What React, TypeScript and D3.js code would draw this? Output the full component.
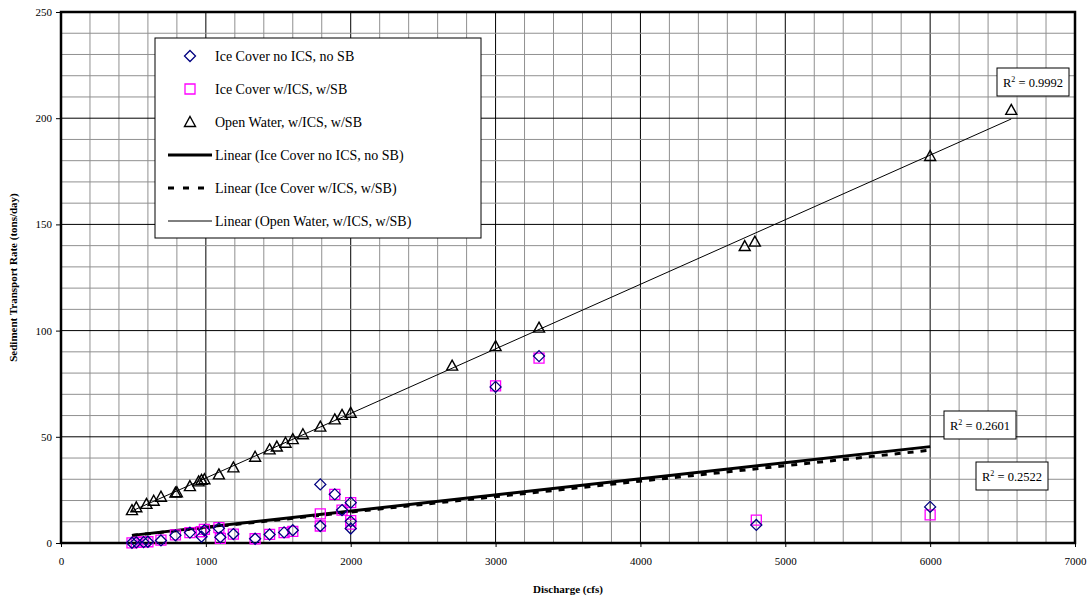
import React, { useEffect, useRef } from 'react';
import * as d3 from 'd3';

// Ice Cover no ICS, no SB (diamonds)
const iceNoX = [490, 520, 570, 600, 690, 790, 890, 970, 990, 1090, 1100, 1190, 1340, 1440, 1540, 1600, 1790, 1790, 1890, 1940, 2000, 2000, 2000, 3000, 3300, 4800, 6000];
const iceNoY = [0.1, 0.3, 0.4, 0.6, 1.2, 3.6, 4.9, 3.0, 6.0, 6.9, 2.7, 4.2, 2.0, 4.0, 5.0, 6.0, 27.6, 8.0, 22.9, 15.5, 19.0, 10.2, 6.8, 73.5, 88.0, 8.5, 17.0];

// Ice Cover w/ICS, w/SB (squares)
const iceWX = [490, 520, 570, 600, 690, 790, 890, 970, 990, 1090, 1100, 1190, 1340, 1440, 1540, 1600, 1790, 1790, 1890, 1940, 2000, 2000, 2000, 3000, 3300, 4800, 6000];
const iceWY = [0.1, 0.3, 0.5, 0.6, 1.4, 3.8, 4.9, 5.3, 6.4, 7.2, 2.2, 4.2, 2.0, 4.1, 4.9, 5.5, 13.7, 8.0, 22.9, 15.5, 19.0, 10.5, 8.9, 74.0, 87.0, 10.8, 13.2];

// Open Water, w/ICS, w/SB (triangles)
const openX = [490, 520, 590, 640, 690, 790, 800, 890, 950, 970, 990, 1090, 1190, 1340, 1440, 1490, 1550, 1600, 1670, 1790, 1890, 1940, 2000, 2700, 3000, 3300, 4720, 4790, 6000, 6560];
const openY = [15.5, 16.8, 18.4, 19.9, 21.8, 23.7, 23.9, 26.8, 29.0, 29.7, 30.0, 32.3, 35.6, 40.6, 44.1, 45.4, 47.2, 48.9, 51.2, 54.8, 58.2, 60.3, 61.3, 83.5, 92.7, 101.4, 139.8, 141.9, 182.2, 203.9];

const xTicks = [0, 1000, 2000, 3000, 4000, 5000, 6000, 7000];
const yTicks = [0, 50, 100, 150, 200, 250];
const r2Labels = ['0.9992', '0.2601', '0.2522'];
const legendLabels = [
  'Ice Cover no ICS, no SB',
  'Ice Cover w/ICS, w/SB',
  'Open Water, w/ICS, w/SB',
  'Linear (Ice Cover no ICS, no SB)',
  'Linear (Ice Cover w/ICS, w/SB)',
  'Linear (Open Water, w/ICS, w/SB)',
];

const FONT = '"Liberation Serif", "Times New Roman", serif';

const linFit = (xs: number[], ys: number[]) => {
  const mx = d3.mean(xs)!;
  const my = d3.mean(ys)!;
  let sxy = 0, sxx = 0;
  xs.forEach((x, i) => { sxy += (x - mx) * (ys[i] - my); sxx += (x - mx) * (x - mx); });
  const b = sxy / sxx;
  return { a: my - b * mx, b };
};

const App = () => {
  const ref = useRef<SVGSVGElement>(null);

  useEffect(() => {
    const W = 1092, H = 601;
    const margin = { top: 12, right: 17, bottom: 58, left: 61 };
    const svg = d3.select(ref.current);
    svg.selectAll('*').remove();
    svg.attr('width', W).attr('height', H);

    const x = d3.scaleLinear().domain([0, 7000]).range([margin.left, W - margin.right]);
    const y = d3.scaleLinear().domain([0, 250]).range([H - margin.bottom, margin.top]);

    const g = svg.append('g');

    // grid
    g.selectAll('.vgrid')
      .data(d3.range(200, 7000, 200))
      .enter().append('line')
      .attr('x1', d => x(d)).attr('x2', d => x(d))
      .attr('y1', y(0)).attr('y2', y(250))
      .attr('stroke', d => d % 1000 === 0 ? '#000' : '#909090')
      .attr('stroke-width', 1);
    g.selectAll('.hgrid')
      .data(d3.range(10, 250, 10))
      .enter().append('line')
      .attr('y1', d => y(d)).attr('y2', d => y(d))
      .attr('x1', x(0)).attr('x2', x(7000))
      .attr('stroke', d => d % 50 === 0 ? '#000' : '#909090')
      .attr('stroke-width', 1);

    // axes
    const xAxis = g.append('g')
      .attr('transform', `translate(0,${y(0)})`)
      .call(d3.axisBottom(x).tickValues(xTicks).tickSize(4).tickPadding(10).tickFormat(d3.format('d')));
    const yAxis = g.append('g')
      .attr('transform', `translate(${x(0)},0)`)
      .call(d3.axisLeft(y).tickValues(yTicks).tickSize(5).tickPadding(4));
    [xAxis, yAxis].forEach(a => {
      a.select('.domain').remove();
      a.selectAll('text').attr('font-family', FONT).attr('font-size', 11).attr('fill', '#000');
      a.selectAll('line').attr('stroke', '#000');
    });

    // frame
    g.append('rect')
      .attr('x', x(0)).attr('y', y(250))
      .attr('width', x(7000) - x(0)).attr('height', y(0) - y(250))
      .attr('fill', 'none').attr('stroke', '#000').attr('stroke-width', 2.5);

    // trendlines
    const trend = (xs: number[], ys: number[]) => {
      const f = linFit(xs, ys);
      const x0 = d3.min(xs)!, x1 = d3.max(xs)!;
      return [[x0, f.a + f.b * x0], [x1, f.a + f.b * x1]];
    };
    const line = d3.line<number[]>().x(d => x(d[0])).y(d => y(d[1]));
    g.append('path').attr('d', line(trend(openX, openY))).attr('stroke', '#000').attr('stroke-width', 1).attr('fill', 'none');
    g.append('path').attr('d', line(trend(iceWX, iceWY))).attr('stroke', '#000').attr('stroke-width', 3).attr('stroke-dasharray', '6,7').attr('fill', 'none');
    g.append('path').attr('d', line(trend(iceNoX, iceNoY))).attr('stroke', '#000').attr('stroke-width', 3).attr('fill', 'none');

    // markers
    const diamond = 'M0,-5.5L5.5,0L0,5.5L-5.5,0Z';
    const square = 'M-5,-5H5V5H-5Z';
    const tri = 'M0,-5.5L5.5,4.5H-5.5Z';

    g.selectAll('.sq').data(iceWX).enter().append('path')
      .attr('d', square)
      .attr('transform', (d, i) => `translate(${x(d)},${y(iceWY[i])})`)
      .attr('fill', 'none').attr('stroke', '#ff00ff').attr('stroke-width', 1.3);
    g.selectAll('.dm').data(iceNoX).enter().append('path')
      .attr('d', diamond)
      .attr('transform', (d, i) => `translate(${x(d)},${y(iceNoY[i])})`)
      .attr('fill', 'none').attr('stroke', '#000080').attr('stroke-width', 1.3);
    g.selectAll('.tr').data(openX).enter().append('path')
      .attr('d', tri)
      .attr('transform', (d, i) => `translate(${x(d)},${y(openY[i])})`)
      .attr('fill', 'none').attr('stroke', '#000').attr('stroke-width', 1.4);

    // R² labels
    const r2Pos = [[1033, 82], [980, 425], [1012, 476]];
    r2Labels.forEach((lab, i) => {
      const [cx, cy] = r2Pos[i];
      const bw = 72, bh = 28;
      g.append('rect').attr('x', cx - bw / 2).attr('y', cy - bh / 2).attr('width', bw).attr('height', bh)
        .attr('fill', '#fff').attr('stroke', '#000').attr('stroke-width', 1);
      const t = g.append('text').attr('x', cx).attr('y', cy + 4.5).attr('text-anchor', 'middle')
        .attr('font-family', FONT).attr('font-size', 12.5).attr('fill', '#000');
      t.append('tspan').text('R');
      t.append('tspan').attr('dy', -5).attr('font-size', 8).text('2');
      t.append('tspan').attr('dy', 5).text(` = ${lab}`);
    });

    // legend
    const lg = g.append('g');
    lg.append('rect').attr('x', 155).attr('y', 38).attr('width', 326).attr('height', 200)
      .attr('fill', '#fff').attr('stroke', '#000').attr('stroke-width', 1);
    const rowY = (i: number) => 56 + i * 33;
    legendLabels.forEach((lab, i) => {
      lg.append('text').attr('x', 215).attr('y', rowY(i) + 5).attr('font-family', FONT)
        .attr('font-size', 14).attr('fill', '#000').text(lab);
    });
    lg.append('path').attr('d', diamond).attr('transform', `translate(190,${rowY(0)})`)
      .attr('fill', 'none').attr('stroke', '#000080').attr('stroke-width', 1.3);
    lg.append('path').attr('d', square).attr('transform', `translate(190,${rowY(1)})`)
      .attr('fill', 'none').attr('stroke', '#ff00ff').attr('stroke-width', 1.3);
    lg.append('path').attr('d', tri).attr('transform', `translate(190,${rowY(2)})`)
      .attr('fill', 'none').attr('stroke', '#000').attr('stroke-width', 1.4);
    lg.append('line').attr('x1', 168).attr('x2', 212).attr('y1', rowY(3)).attr('y2', rowY(3))
      .attr('stroke', '#000').attr('stroke-width', 3);
    lg.append('line').attr('x1', 168).attr('x2', 212).attr('y1', rowY(4)).attr('y2', rowY(4))
      .attr('stroke', '#000').attr('stroke-width', 3).attr('stroke-dasharray', '6,9');
    lg.append('line').attr('x1', 168).attr('x2', 212).attr('y1', rowY(5)).attr('y2', rowY(5))
      .attr('stroke', '#000').attr('stroke-width', 1);

    // axis titles
    g.append('text').attr('x', x(3500)).attr('y', 593).attr('text-anchor', 'middle')
      .attr('font-family', FONT).attr('font-size', 11).attr('font-weight', 'bold').text('Discharge (cfs)');
    g.append('text').attr('transform', `translate(17,${(y(0) + y(250)) / 2}) rotate(-90)`)
      .attr('text-anchor', 'middle').attr('font-family', FONT).attr('font-size', 11)
      .attr('font-weight', 'bold').text('Sediment Transport Rate (tons/day)');
  }, []);

  return (
    <svg ref={ref} style={{ position: 'absolute', left: 0, top: 0, display: 'block', background: '#fff' }} />
  );
};

export default App;
